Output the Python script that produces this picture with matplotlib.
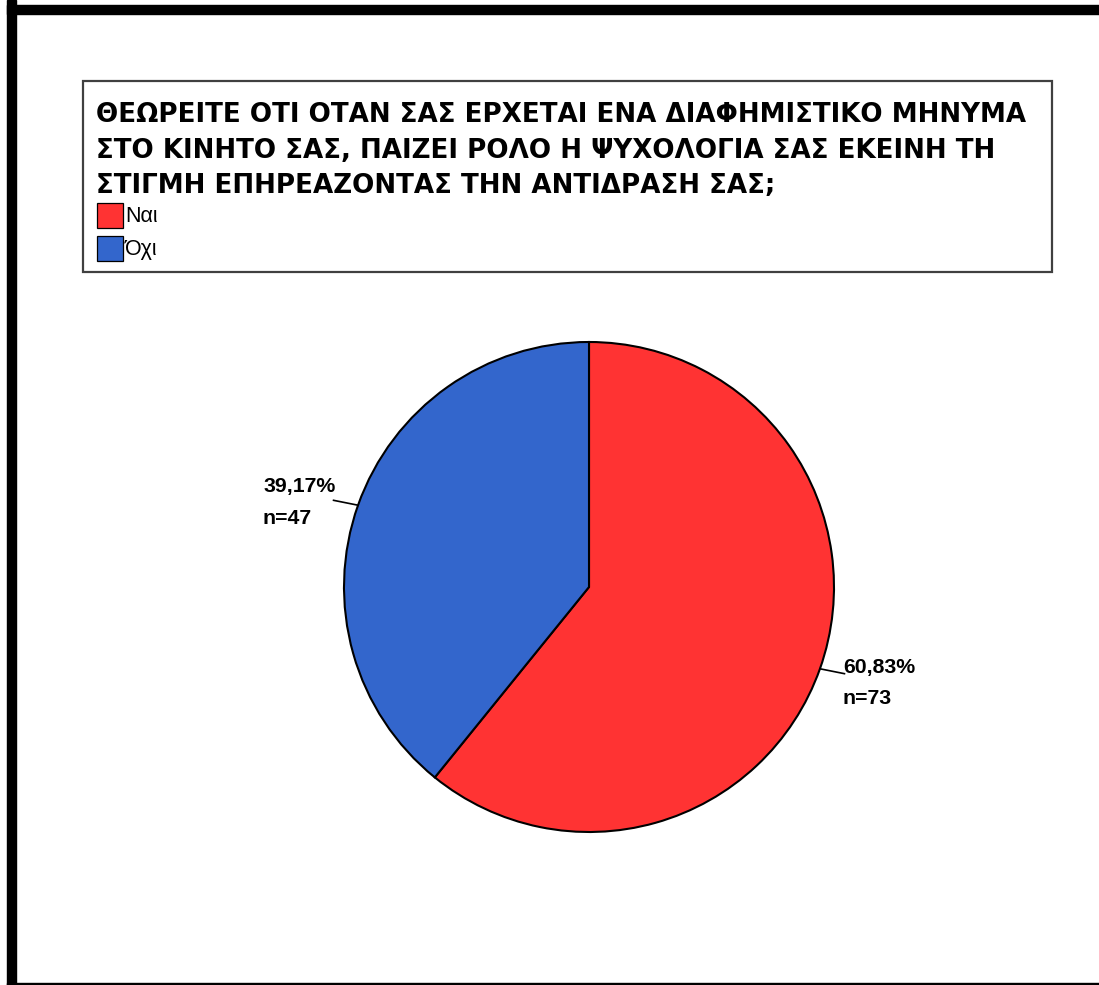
import numpy as np
import matplotlib
matplotlib.use("Agg")
import matplotlib.pyplot as plt
from matplotlib.patches import Rectangle

plt.rcParams["font.family"] = ["Liberation Sans", "DejaVu Sans"]

title_lines = [
    "ΘΕΩΡΕΙΤΕ ΟΤΙ ΟΤΑΝ ΣΑΣ ΕΡΧΕΤΑΙ ΕΝΑ ΔΙΑΦΗΜΙΣΤΙΚΟ ΜΗΝΥΜΑ",
    "ΣΤΟ ΚΙΝΗΤΟ ΣΑΣ, ΠΑΙΖΕΙ ΡΟΛΟ Η ΨΥΧΟΛΟΓΙΑ ΣΑΣ ΕΚΕΙΝΗ ΤΗ",
    "ΣΤΙΓΜΗ ΕΠΗΡΕΑΖΟΝΤΑΣ ΤΗΝ ΑΝΤΙΔΡΑΣΗ ΣΑΣ;",
]
categories = ["Ναι", "Όχι"]
counts = [73, 47]
percents = [60.83, 39.17]
colors = ["#FF3333", "#3366CC"]

W, H = 1099, 985
fig = plt.figure(figsize=(W / 100, H / 100), dpi=100)


def fx(px):
    return px / W


def fy(py):
    return 1 - py / H


# outer frame (left/top thick, bottom thin)
fig.patches.append(Rectangle((fx(7), fy(985)), fx(9), 1, transform=fig.transFigure,
                             color="black", zorder=5))
fig.patches.append(Rectangle((fx(7), fy(14)), 1, 9 / H, transform=fig.transFigure,
                             color="black", zorder=5))
fig.patches.append(Rectangle((fx(7), fy(985)), 1, 2 / H, transform=fig.transFigure,
                             color="black", zorder=5))

# legend box with title
fig.patches.append(Rectangle((fx(83), fy(272)), fx(1052 - 83), (272 - 81) / H,
                             transform=fig.transFigure, facecolor="white",
                             edgecolor="#404040", linewidth=1.6, zorder=4))
for k, line in enumerate(title_lines):
    fig.text(fx(96), fy(122 + k * 35.5), line, ha="left", va="baseline",
             fontsize=18.8, fontweight="bold", family="DejaVu Sans", zorder=6)
for i, (cat, col) in enumerate(zip(categories, colors)):
    top = 203 + i * 33
    fig.patches.append(Rectangle((fx(97), fy(top + 25)), fx(26), 25 / H,
                                 transform=fig.transFigure, facecolor=col,
                                 edgecolor="black", linewidth=0.9, zorder=6))
    fig.text(fx(125), fy(top + 13), cat, ha="left", va="center", fontsize=15.5,
             zorder=6)

# pie, starting at 12 o'clock and going clockwise
cx, cy, r = 589, 587, 245
ax = fig.add_axes([fx(cx - r), fy(cy + r), 2 * r / W, 2 * r / H])
wedges, _ = ax.pie(counts, colors=colors, startangle=90, counterclock=False,
                   radius=1, wedgeprops=dict(edgecolor="black", linewidth=1.5))
ax.set_xlim(-1, 1)
ax.set_ylim(-1, 1)
ax.set_aspect("equal")
ax.axis("off")

# value labels with short leader lines
label_pos = [(843, 667), (263, 487)]
for w, pct, n, (lx, ly) in zip(wedges, percents, counts, label_pos):
    ang = np.deg2rad((w.theta1 + w.theta2) / 2)
    x0, y0 = np.cos(ang), np.sin(ang)
    dx = 0.1 if x0 > 0 else -0.1
    ax.plot([x0, x0 + dx], [y0, y0 + 0.02 * np.sign(y0)], color="black",
            linewidth=1.2, clip_on=False)
    fig.text(fx(lx), fy(ly), f"{pct:.2f}%".replace(".", ","), ha="left",
             va="center", fontsize=15.3, fontweight="bold")
    fig.text(fx(lx), fy(ly + 31), f"n={n}", ha="left", va="center",
             fontsize=15.3, fontweight="bold")

fig.savefig("out.png", dpi=100, facecolor="white")
